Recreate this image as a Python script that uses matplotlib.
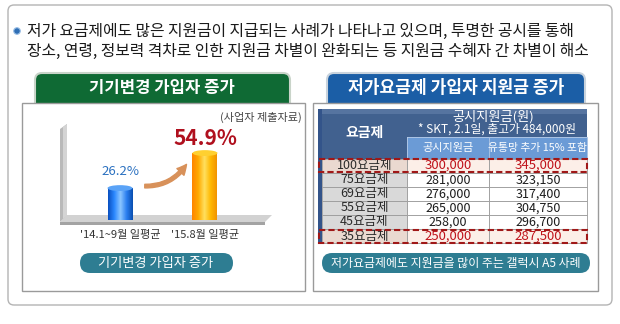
import matplotlib.pyplot as plt
import numpy as np
from matplotlib.colors import LinearSegmentedColormap
from matplotlib.patches import Circle, Ellipse, FancyArrowPatch, FancyBboxPatch, Polygon, Rectangle

plt.rcParams["font.family"] = ["Noto Sans CJK KR", "DejaVu Sans"]

W, H = 620, 324

# left chart: share of device-change subscribers
periods = ["'14.1~9월 일평균", "'15.8월 일평균"]
switch_share = [26.2, 54.9]

# right table: Galaxy A5 subsidy by plan
plans = ["100요금제", "75요금제", "69요금제", "55요금제", "45요금제", "35요금제"]
subsidy = ["300,000", "281,000", "276,000", "265,000", "258,00", "250,000"]
subsidy_dealer = ["345,000", "323,150", "317,400", "304,750", "296,700", "287,500"]
highlight_rows = [0, 5]

summary = [
    "저가 요금제에도 많은 지원금이 지급되는 사례가 나타나고 있으며, 투명한 공시를 통해",
    "장소, 연령, 정보력 격차로 인한 지원금 차별이 완화되는 등 지원금 수혜자 간 차별이 해소",
]

TEAL = "#2e7d92"

fig = plt.figure(figsize=(6.2, 3.24), dpi=100)
bg = fig.add_axes([0, 0, 1, 1])
bg.set_xlim(0, W)
bg.set_ylim(H, 0)
bg.axis("off")


def rbox(x0, y0, x1, y1, fc, ec="none", lw=1.0, r=4, z=1):
    bg.add_patch(FancyBboxPatch((x0, y0), x1 - x0, y1 - y0,
                                boxstyle=f"round,pad=0,rounding_size={r}",
                                fc=fc, ec=ec, lw=lw, zorder=z))


def rect(x0, y0, x1, y1, fc, ec="none", lw=0.8, z=3, **kw):
    bg.add_patch(Rectangle((x0, y0), x1 - x0, y1 - y0, fc=fc, ec=ec, lw=lw, zorder=z, **kw))


# outer frame and summary text
rbox(8, 5, 612, 305, "white", "#b4b4b4", lw=1, r=6)
bg.add_patch(Circle((17, 31), 3.3, fc="#2f6fb5", ec="#9cc0e6", lw=0.8, zorder=2))
for i, line in enumerate(summary):
    bg.text(27, 31 + i * 20, line, fontsize=11.4, weight="medium", va="center",
            color="#1a1a1a", zorder=2)

# panel tabs and boxes
rbox(35, 73, 290, 112, "#0f6a34", "#c9d4c9", lw=1.5, r=7, z=2)
bg.text(162, 88, "기기변경 가입자 증가", fontsize=12, color="white", weight="bold",
        ha="center", va="center", zorder=3)
rect(22, 103, 305, 291, "white", "#9a9a9a", lw=1, z=3)

rbox(327, 73, 585, 112, "#1b5ea6", "#c9d3dd", lw=1.5, r=7, z=2)
bg.text(456, 88, "저가요금제 가입자 지원금 증가", fontsize=12.3, color="white", weight="bold",
        ha="center", va="center", zorder=3)
rect(313, 103, 598, 291, "white", "#9a9a9a", lw=1, z=3)

# left panel: source note, 3D frame, arrow, pill
bg.text(302, 117, "(사업자 제출자료)", fontsize=8, color="#444444", ha="right", va="center", zorder=5)
bg.add_patch(Polygon([(60, 129), (67, 124), (67, 216), (60, 222)], fc="#b9b9b9", ec="none", zorder=4))
bg.add_patch(Polygon([(63, 127), (67, 124), (67, 216), (63, 219)], fc="#d4d4d4", ec="none", zorder=4))
bg.add_patch(Polygon([(60, 222), (67, 215), (272, 215), (265, 222)], fc="#d2d2d2", ec="none", zorder=4))
rect(60, 222, 265, 225, "#a3a3a3", z=4)

bg.add_patch(FancyArrowPatch((142, 186), (188, 162), connectionstyle="arc3,rad=0.3",
                             arrowstyle="simple,head_width=7,head_length=7,tail_width=2.6",
                             color="#d8915a", zorder=6))

rbox(80, 253, 233, 273, TEAL, r=10, z=5)
bg.text(156, 263, "기기변경 가입자 증가", fontsize=9.5, color="white", ha="center", va="center", zorder=6)

# left panel bar chart
ax = fig.add_axes([60 / W, 1 - 222 / H, 210 / W, 97 / H], zorder=2)
ax.patch.set_alpha(0)
for s in ax.spines.values():
    s.set_visible(False)
x = np.arange(len(periods))
bar_w = 0.294
cmaps = [
    LinearSegmentedColormap.from_list("b", ["#0a4fc0", "#2a88ff", "#8cc6ff", "#2a7ef0", "#0a4fb0"]),
    LinearSegmentedColormap.from_list("o", ["#ff8400", "#ffaa00", "#ffe060", "#ffb800", "#f29400"]),
]
tops = ["#5aa3f7", "#ffd030"]
bars = ax.bar(x, switch_share, width=bar_w, color="none", zorder=2)
grad = np.linspace(0, 1, 64).reshape(1, -1)
for bar, cmap, top in zip(bars, cmaps, tops):
    x0, h = bar.get_x(), bar.get_height()
    im = ax.imshow(grad, cmap=cmap, aspect="auto", zorder=2,
                   extent=(x0, x0 + bar_w, 0, h))
    im.set_clip_path(bar)
    ax.add_patch(Ellipse((x0 + bar_w / 2, h), bar_w, 4.8, fc=top, ec="none", zorder=3))
ax.set_xlim(-0.706, 1.765)
ax.set_ylim(-1.6, 77.9)
ax.set_yticks([])
ax.set_xticks(x, periods)
ax.tick_params(axis="x", length=0, pad=6, labelsize=8, labelcolor="#333333")

label_style = [
    dict(fontsize=9.5, color="#2a70c0", offset=7),
    dict(fontsize=15, color="#b0101e", offset=3, weight="bold"),
]
for xi, v, st in zip(x, switch_share, label_style):
    st = dict(st)
    off = st.pop("offset")
    ax.annotate(f"{v}%", (xi, v), xytext=(0, off), textcoords="offset points",
                ha="center", va="bottom", zorder=5, **st)

# right panel table
cols = [322, 407, 489, 587]
HEAD = "#41618f"
SUB = "#6b9bd6"
row_top, row_h = 158.5, 14.1
rect(318, 109, 322, row_top + row_h * len(plans), "#33548a", z=4)
rect(cols[0], 109, cols[1], row_top, HEAD, z=4)
rect(cols[1], 109, cols[3], 137, HEAD, z=4)
rect(cols[1], 109, cols[3], 114, "#5674a0", z=4)
rect(cols[0], 109, cols[1], 114, "#5674a0", z=4)
rect(cols[1], 137, cols[2], row_top, SUB, ec="#a9c2e4", lw=0.6, z=4)
rect(cols[2], 137, cols[3], row_top, SUB, ec="#a9c2e4", lw=0.6, z=4)
bg.text((cols[0] + cols[1]) / 2, 133, "요금제", fontsize=10, color="white", weight="bold",
        ha="center", va="center", zorder=6)
bg.text(493, 117, "공시지원금(원)", fontsize=9.5, color="white", ha="center", va="center", zorder=6)
bg.text(497, 129.5, "* SKT, 2.1일, 출고가 484,000원", fontsize=8.5, color="white",
        ha="center", va="center", zorder=6)
bg.text((cols[1] + cols[2]) / 2, 147.5, "공시지원금", fontsize=8, color="white",
        ha="center", va="center", zorder=6)
bg.text((cols[2] + cols[3]) / 2, 147.5, "유통망 추가 15% 포함", fontsize=7.8, color="white",
        ha="center", va="center", zorder=6)

for i, (plan, s1, s2) in enumerate(zip(plans, subsidy, subsidy_dealer)):
    y0 = row_top + i * row_h
    hl = i in highlight_rows
    rect(cols[0], y0, cols[1], y0 + row_h, "#ead9d0" if hl else "#d9d9d9", ec="#9a9a9a", lw=0.6, z=4)
    for c in (1, 2):
        rect(cols[c], y0, cols[c + 1], y0 + row_h, "#fcefe8" if hl else "white",
             ec="#9a9a9a", lw=0.6, z=4)
    yc = y0 + row_h / 2
    val_color = "#c0141c" if hl else "#1c1c1c"
    val_size = 9.5 if hl else 9
    bg.text((cols[0] + cols[1]) / 2, yc, plan, fontsize=9, color="#2a2a2a",
            ha="center", va="center", zorder=6)
    bg.text((cols[1] + cols[2]) / 2, yc, s1, fontsize=val_size, color=val_color,
            ha="center", va="center", zorder=6)
    bg.text((cols[2] + cols[3]) / 2, yc, s2, fontsize=val_size, color=val_color,
            ha="center", va="center", zorder=6)
    if hl:
        rect(319, y0 + 0.5, 587, y0 + row_h - 0.5, "none", ec="#a01818", lw=1.5, z=7,
             linestyle=(0, (3, 1.5)))

rbox(322, 253, 590, 273, TEAL, r=10, z=5)
bg.text(456, 263, "저가요금제에도 지원금을 많이 주는 갤럭시 A5 사례", fontsize=8.6,
        color="white", ha="center", va="center", zorder=6)

fig.savefig("out.png", dpi=100)
